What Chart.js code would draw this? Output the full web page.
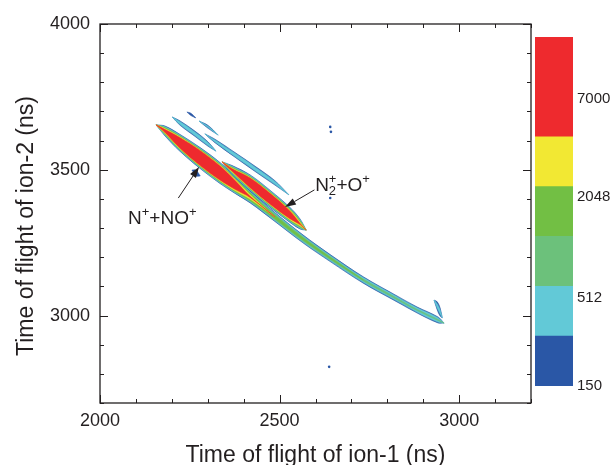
<!DOCTYPE html>
<html>
<head>
<meta charset="utf-8">
<script src="https://cdn.jsdelivr.net/npm/chart.js@4/dist/chart.umd.min.js"></script>
<style>
  html, body { margin: 0; padding: 0; background: #fff; }
  #wrap { position: relative; width: 612px; height: 465px; }
  #main { position: absolute; left: 0; top: 0; }
  #bar { position: absolute; left: 535px; top: 24px; }
</style>
</head>
<body>
<div id="wrap">
  <canvas id="main" width="612" height="465"></canvas>
  <canvas id="bar" width="77" height="380"></canvas>
</div>
<script>
// Contour level colours, lowest level first
const levelColors = ['#2a57a6', '#62c9d7', '#6cc17b', '#72bf44', '#f2e833', '#ee2a2e'];

// Colour bar: box heights per level (the top level box is double) and the level labels
const colorbarBoxes = [1, 1, 1, 1, 1, 2];
const colorbarLabels = ['150', '512', '2048', '7000'];
const colorbarLabelAt = [0, 1.77, 3.79, 5.76];

// Axis tick labels (ns)
const xMajorTicks = [2000, 2500, 3000];
const yMajorTicks = [3000, 3500, 4000];

// N+ + NO+ island and its long tail: centre line [t1, t2] (ns)
const nnoTrack = [[2156,3654],[2181,3633],[2223,3592],[2279,3540],[2334,3489],[2376,3448],[2418,3407],
                  [2487,3338],[2565,3263],[2641,3197],[2733,3122],[2827,3057],[2883,3019],[2941,2985],[2958,2974]];
// half-heights (ns) of each contour level along the centre line
const nnoHalf = [
  [0,17,29,36,36,29,20.6,15.4,13.7,12,11,10.3,10.3,10.3,0],
  [0,14.7,26.8,33.6,33.6,26.8,17.8,12.7,11,9.3,8.2,7.5,7.5,7.5,0],
  [0,12.3,24.4,31.2,31.2,24.4,15.4,9.6,7.5,5.5,3.4,2.7,2,1.7,0],
  [0,10.3,22.3,29.2,28.8,22,12.3,5.5,3.4,1.7,0,0,0,0,0],
  [0,7.9,20.2,27.1,26.4,19.2,7.5,0,0,0,0,0,0,0,0],
  [0,4.8,17.8,25.4,24,15.1,2,0,0,0,0,0,0,0,0]
];

// N2+ + O+ island
const n2oTrack = [[2340,3527],[2368,3499],[2418,3455],[2474,3400],[2529,3345],[2557,3314],[2574,3293]];
const n2oHalf = [
  [0,15.4,27.4,29.2,25.7,17.2,0],
  [0,13,25,26.8,23.3,14.7,0],
  [0,10.6,22.6,24.4,20.9,12.3,0],
  [0,8.6,20.6,22.3,18.9,9.6,0],
  [0,6.5,18.5,20.2,16.1,6.2,0],
  [0,4.1,16.5,18.2,13,2,0]
];

// weak parallel stripes above the islands
const stripeA = [[2201,3681],[2223,3660],[2265,3623],[2301,3588],[2323,3564]];
const stripeAHalf = [[0,7.5,9,7.5,0],[0,4.8,6,4.8,0]];
const stripeB = [[2242,3698],[2253,3690],[2267,3678]];
const stripeBHalf = [[0,4,0]];
const stripeC = [[2276,3667],[2301,3647],[2329,3619]];
const stripeCHalf = [[0,5,0],[0,2,0]];
const stripeD = [[2292,3623],[2320,3599],[2376,3551],[2432,3503],[2487,3455],[2526,3414]];
const stripeDHalf = [[0,6,8,9,7.5,0],[0,3.4,5.5,6,4.8,0]];

// small blob below the N+ + NO+ island and the hook at the end of the tail
const blob = [[2256,3499],[2267,3489],[2279,3479]];
const blobHalf = [[0,10,0]];
const hook = [[2930,3053],[2939,3033],[2947,3012],[2953,2992]];
const hookHalf = [[0,14,14,0],[0,7,7,0]];

// isolated single counts
const specks = [[2641,3647],[2643,3630],[2638,2824],[2641,3403]];

const INK = '#231f20';
const FONT = "'Liberation Sans', Arial, Helvetica, sans-serif";
Chart.defaults.font.family = FONT;
Chart.defaults.color = INK;

// Closed outline of one contour level: upper edge forward, lower edge back
function levelOutline(track, half) {
  const first = half.findIndex(h => h > 0);
  let last = half.length - 1;
  while (last >= 0 && !(half[last] > 0)) last--;
  if (first < 0) return [];
  const lo = Math.max(0, first - 1), hi = Math.min(half.length - 1, last + 1);
  const pts = [];
  for (let i = lo; i <= hi; i++) pts.push({x: track[i][0], y: track[i][1] + half[i]});
  for (let i = hi; i >= lo; i--) pts.push({x: track[i][0], y: track[i][1] - half[i]});
  return pts;
}

const islands = [
  [nnoTrack, nnoHalf], [n2oTrack, n2oHalf],
  [stripeA, stripeAHalf], [stripeB, stripeBHalf], [stripeC, stripeCHalf], [stripeD, stripeDHalf],
  [blob, blobHalf], [hook, hookHalf]
];

const datasets = [];
islands.forEach(([track, halves]) => {
  halves.forEach((half, level) => {
    datasets.push({
      data: levelOutline(track, half),
      showLine: true,
      fill: 'shape',
      backgroundColor: levelColors[level],
      borderColor: levelColors[level],
      borderWidth: 0.6,
      pointRadius: 0,
      tension: 0.35
    });
  });
});
datasets.push({
  data: specks.map(([x, y]) => ({x, y})),
  showLine: false,
  pointRadius: 1.3,
  pointBorderWidth: 0,
  backgroundColor: levelColors[0]
});
// draw in array order (outer levels first)
datasets.forEach((d, i) => { d.order = datasets.length - i; });

// Ion pair labels with arrows, anchored in data coordinates
const ionLabels = [
  {at: [2078, 3313], parts: [['N'], ['+', 'sup'], ['+'], ['NO'], ['+', 'sup']],
   arrowFrom: [2218, 3403], arrowTo: [2276, 3510]},
  {at: [2599, 3427], parts: [['N'], ['+', 'sup', '2'], ['+'], ['O'], ['+', 'sup']],
   arrowFrom: [2597, 3431], arrowTo: [2515, 3372]}
];

const overlay = {
  id: 'overlay',
  afterDraw(chart) {
    const {ctx, chartArea: a, scales: {x, y}} = chart;
    ctx.save();
    // frame
    ctx.strokeStyle = INK;
    ctx.lineWidth = 1.3;
    ctx.strokeRect(a.left, a.top, a.right - a.left, a.bottom - a.top);
    // inward ticks on all four sides
    ctx.lineWidth = 1;
    ctx.beginPath();
    x.ticks.forEach(t => {
      const px = Math.round(x.getPixelForValue(t.value)) + 0.5;
      const len = xMajorTicks.includes(t.value) ? 8 : 4;
      ctx.moveTo(px, a.bottom); ctx.lineTo(px, a.bottom - len);
      ctx.moveTo(px, a.top); ctx.lineTo(px, a.top + len);
    });
    y.ticks.forEach(t => {
      const py = Math.round(y.getPixelForValue(t.value)) + 0.5;
      const len = yMajorTicks.includes(t.value) ? 8 : 4;
      ctx.moveTo(a.left, py); ctx.lineTo(a.left + len, py);
      ctx.moveTo(a.right, py); ctx.lineTo(a.right - len, py);
    });
    ctx.stroke();

    // axis titles
    ctx.fillStyle = INK;
    ctx.font = `23px ${FONT}`;
    ctx.textAlign = 'center';
    ctx.textBaseline = 'alphabetic';
    ctx.fillText('Time of flight of ion-1 (ns)', (a.left + a.right) / 2, 462);
    ctx.save();
    ctx.translate(33, 226);
    ctx.rotate(-Math.PI / 2);
    ctx.fillText('Time of flight of ion-2 (ns)', 0, 0);
    ctx.restore();

    // ion pair labels and arrows
    ionLabels.forEach(lab => {
      let cx = x.getPixelForValue(lab.at[0]);
      const by = y.getPixelForValue(lab.at[1]);
      ctx.textAlign = 'left';
      lab.parts.forEach(([txt, kind, sub]) => {
        if (kind === 'sup') {
          ctx.font = `13px ${FONT}`;
          ctx.fillText(txt, cx, by - 8);
          let w = ctx.measureText(txt).width;
          if (sub) {
            ctx.fillText(sub, cx, by + 4);
            w = Math.max(w, ctx.measureText(sub).width);
          }
          cx += w;
        } else {
          ctx.font = `19px ${FONT}`;
          ctx.fillText(txt, cx, by);
          cx += ctx.measureText(txt).width;
        }
      });
      const x0 = x.getPixelForValue(lab.arrowFrom[0]), y0 = y.getPixelForValue(lab.arrowFrom[1]);
      const x1 = x.getPixelForValue(lab.arrowTo[0]), y1 = y.getPixelForValue(lab.arrowTo[1]);
      const ang = Math.atan2(y1 - y0, x1 - x0);
      const hl = 11, hw = 3.5;
      const bx = x1 - hl * Math.cos(ang), byy = y1 - hl * Math.sin(ang);
      ctx.strokeStyle = INK;
      ctx.lineWidth = 1;
      ctx.beginPath();
      ctx.moveTo(x0, y0); ctx.lineTo(bx, byy);
      ctx.stroke();
      ctx.beginPath();
      ctx.moveTo(x1, y1);
      ctx.lineTo(bx + hw * Math.sin(ang), byy - hw * Math.cos(ang));
      ctx.lineTo(bx - hw * Math.sin(ang), byy + hw * Math.cos(ang));
      ctx.closePath();
      ctx.fill();
    });
    ctx.restore();
  }
};

new Chart(document.getElementById('main'), {
  type: 'scatter',
  data: {datasets},
  options: {
    responsive: false,
    animation: false,
    events: [],
    layout: {padding: {left: 0, top: 24, right: 81, bottom: 0}},
    plugins: {legend: {display: false}, tooltip: {enabled: false}},
    scales: {
      x: {
        type: 'linear', min: 2000, max: 3200,
        grid: {display: false, drawTicks: false},
        border: {display: false},
        ticks: {
          stepSize: 100, autoSkip: false, maxRotation: 0, padding: 7,
          font: {size: 18}, color: INK,
          callback: v => xMajorTicks.includes(v) ? String(v) : ''
        },
        afterFit: s => { s.height = 62; }
      },
      y: {
        type: 'linear', min: 2700, max: 4000,
        grid: {display: false, drawTicks: false},
        border: {display: false},
        ticks: {
          stepSize: 100, autoSkip: false, padding: 10,
          font: {size: 18}, color: INK,
          callback: v => yMajorTicks.includes(v) ? String(v) : ''
        },
        afterFit: s => { s.width = 100; }
      }
    }
  },
  plugins: [overlay]
});

// Colour bar
new Chart(document.getElementById('bar'), {
  type: 'bar',
  data: {
    labels: [''],
    datasets: colorbarBoxes.map((v, i) => ({
      data: [v],
      backgroundColor: levelColors[i],
      borderWidth: 0,
      barPercentage: 1,
      categoryPercentage: 1
    }))
  },
  options: {
    responsive: false,
    animation: false,
    events: [],
    layout: {padding: {top: 10, bottom: 18, left: 0, right: 0}},
    plugins: {legend: {display: false}, tooltip: {enabled: false}},
    scales: {
      x: {stacked: true, display: false},
      y: {
        stacked: true, position: 'right', min: 0,
        max: colorbarBoxes.reduce((s, v) => s + v, 0),
        grid: {display: false, drawTicks: false},
        border: {display: false},
        afterBuildTicks: s => { s.ticks = colorbarLabelAt.map(v => ({value: v})); },
        ticks: {
          autoSkip: false, padding: 4, font: {size: 15}, color: INK,
          callback: (v, i) => colorbarLabels[i]
        },
        afterFit: s => { s.width = 39; }
      }
    }
  }
});
</script>
</body>
</html>
